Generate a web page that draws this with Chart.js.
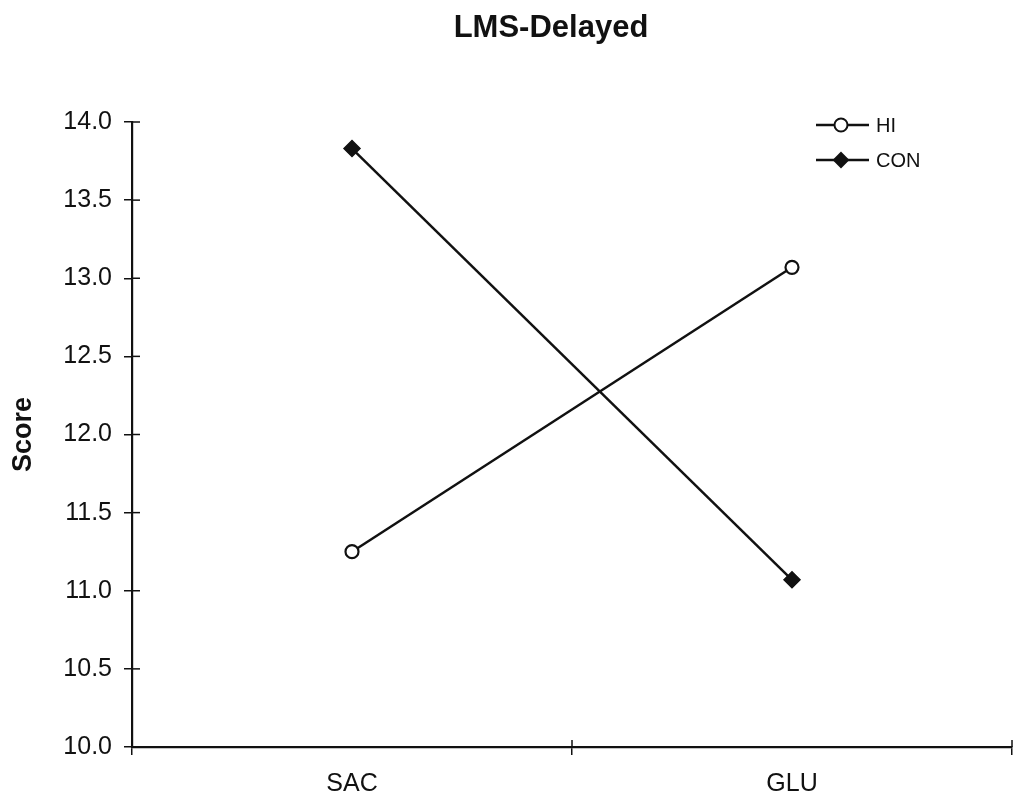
<!DOCTYPE html>
<html>
<head>
<meta charset="utf-8">
<script src="https://cdn.jsdelivr.net/npm/chart.js@4/dist/chart.umd.min.js"></script>
<style>
  html, body { margin: 0; padding: 0; background: #fff; }
  #wrap { width: 1014px; height: 802px; }
</style>
</head>
<body>
<div id="wrap"><canvas id="c" width="1014" height="802"></canvas></div>
<script>
const categories = ["SAC", "GLU"];
const hiValues = [11.25, 13.07];
const conValues = [13.83, 11.07];
const seriesNames = ["HI", "CON"];
const chartTitle = "LMS-Delayed";
const yTitle = "Score";
const yMin = 10.0, yMax = 14.0, yStep = 0.5;

const INK = "#111";
const FONT = "'Liberation Sans', Arial, sans-serif";

const titleAbove = {
  id: "titleAbove",
  afterDraw(chart) {
    const ctx = chart.ctx;
    ctx.save();
    ctx.fillStyle = INK;
    ctx.font = "bold 31px " + FONT;
    ctx.textAlign = "center";
    ctx.textBaseline = "alphabetic";
    ctx.fillText(chartTitle, 551, 37);
    ctx.restore();
  }
};

const crossTicks = {
  id: "crossTicks",
  afterDraw(chart) {
    const ctx = chart.ctx, a = chart.chartArea;
    const xs = chart.scales.x, ys = chart.scales.y;
    ctx.save();
    ctx.strokeStyle = INK;
    ctx.lineWidth = 1.5;
    ys.ticks.forEach((t, i) => {
      const y = ys.getPixelForTick(i);
      ctx.beginPath(); ctx.moveTo(a.left, y); ctx.lineTo(a.left + 8, y); ctx.stroke();
    });
    for (let i = 0; i <= categories.length; i++) {
      const x = xs.getPixelForValue(i - 0.5);
      ctx.beginPath(); ctx.moveTo(x, a.bottom); ctx.lineTo(x, a.bottom - 7); ctx.stroke();
    }
    ctx.restore();
  }
};

const lineLegend = {
  id: "lineLegend",
  afterDraw(chart) {
    const ctx = chart.ctx;
    const x0 = 816, x1 = 869, tx = 876, y0 = 125, dy = 35;
    ctx.save();
    chart.data.datasets.forEach((ds, i) => {
      const y = y0 + i * dy;
      ctx.strokeStyle = ds.borderColor;
      ctx.lineWidth = 2.5;
      ctx.beginPath(); ctx.moveTo(x0, y); ctx.lineTo(x1, y); ctx.stroke();
      const cx = 841;
      ctx.lineWidth = 2;
      ctx.strokeStyle = ds.pointBorderColor;
      ctx.fillStyle = ds.pointBackgroundColor;
      ctx.beginPath();
      if (ds.pointStyle === "circle") {
        ctx.arc(cx, y, 6.5, 0, Math.PI * 2);
      } else {
        const r = 7;
        ctx.moveTo(cx, y - r); ctx.lineTo(cx + r, y); ctx.lineTo(cx, y + r); ctx.lineTo(cx - r, y); ctx.closePath();
      }
      ctx.fill(); ctx.stroke();
      ctx.fillStyle = INK;
      ctx.font = "20px " + FONT;
      ctx.textBaseline = "middle";
      ctx.textAlign = "left";
      ctx.fillText(ds.label, tx, y + 1);
    });
    ctx.restore();
  }
};

new Chart(document.getElementById("c"), {
  type: "line",
  data: {
    labels: categories,
    datasets: [
      {
        label: seriesNames[0], data: hiValues,
        borderColor: INK, borderWidth: 2.5,
        pointStyle: "circle", pointRadius: 6.5, pointBorderWidth: 2.2,
        pointBackgroundColor: "#fff", pointBorderColor: INK,
        tension: 0
      },
      {
        label: seriesNames[1], data: conValues,
        borderColor: INK, borderWidth: 2.5,
        pointStyle: "rectRot", pointRadius: 8, pointBorderWidth: 1.5,
        pointBackgroundColor: INK, pointBorderColor: INK,
        tension: 0
      }
    ]
  },
  options: {
    responsive: false,
    animation: false,
    layout: { autoPadding: false, padding: { left: 0, right: 2, top: 122, bottom: 0 } },
    plugins: {
      legend: { display: false },
      tooltip: { enabled: false },
      title: { display: false }
    },
    scales: {
      x: {
        type: "category",
        offset: true,
        grid: { display: true, offset: true, drawOnChartArea: false, drawTicks: true, tickLength: 8, color: INK, lineWidth: 1.5 },
        border: { display: true, color: INK, width: 2.2 },
        ticks: { color: INK, font: { family: FONT, size: 25 }, padding: 14 },
        afterFit(s) { s.height = 55; s.paddingLeft = 0; s.paddingRight = 0; }
      },
      y: {
        min: yMin, max: yMax,
        grid: { display: true, drawOnChartArea: false, drawTicks: true, tickLength: 8, color: INK, lineWidth: 1.5 },
        border: { display: true, color: INK, width: 2.2 },
        ticks: {
          stepSize: yStep, color: INK, font: { family: FONT, size: 25 }, padding: 12,
          callback: v => Number(v).toFixed(1)
        },
        title: {
          display: true, text: yTitle, color: INK,
          font: { family: FONT, size: 27, weight: "bold" },
          padding: { top: 7, bottom: 0 }
        },
        afterFit(s) { s.width = 132; }
      }
    }
  },
  plugins: [crossTicks, lineLegend, titleAbove]
});
</script>
</body>
</html>
